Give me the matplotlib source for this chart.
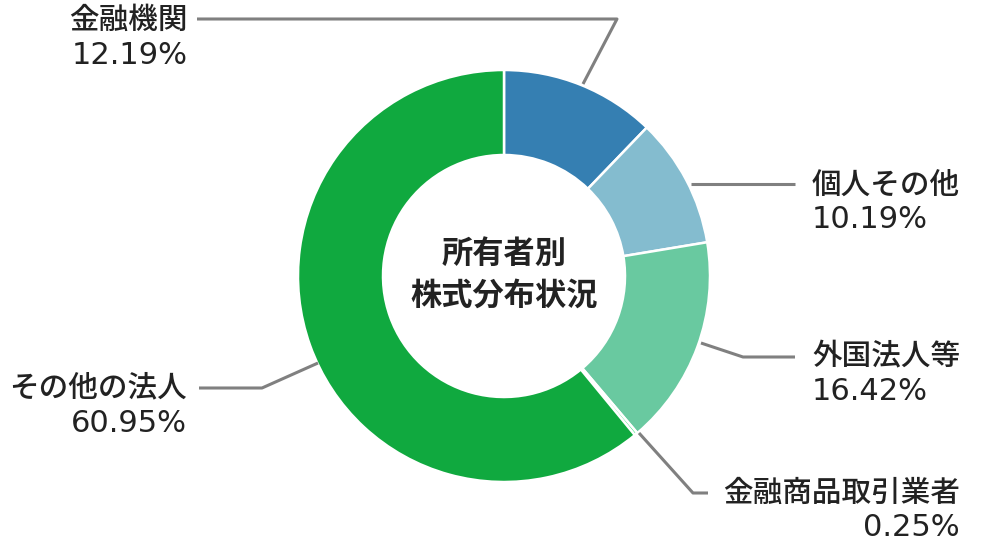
import matplotlib
matplotlib.use("Agg")
import matplotlib.pyplot as plt
import numpy as np

plt.rcParams['font.family'] = ['Noto Sans CJK JP', 'DejaVu Sans']

categories = ['金融機関', '個人その他', '外国法人等', '金融商品取引業者', 'その他の法人']
values = [12.19, 10.19, 16.42, 0.25, 60.95]
value_labels = ['12.19%', '10.19%', '16.42%', '0.25%', '60.95%']
colors = ['#357fb2', '#84bccf', '#69c9a0', '#3ee07c', '#10a93f']
center_title = '所有者別\n株式分布状況'

W, H = 1000, 548
fig = plt.figure(figsize=(W / 100, H / 100), dpi=100)
ax = fig.add_axes([0, 0, 1, 1])

cx, cy = 504, H - 276
R = 206
ring = 85

ax.pie(values, colors=colors, startangle=90, counterclock=False,
       radius=R, center=(cx, cy), frame=True,
       wedgeprops=dict(width=ring, edgecolor='white', linewidth=1.8))
ax.set_xlim(0, W)
ax.set_ylim(0, H)
ax.set_aspect('equal')
ax.axis('off')

ax.text(cx, cy + 1, center_title, ha='center', va='center', fontsize=22.5,
        fontweight='bold', color='#222222', linespacing=1.4)

def Y(y):
    return H - y

# leader lines in pixel coords (y down) and label anchors
leaders = [
    [(583, 84), (617, 19), (197, 19)],
    [(691, 184), (795, 184)],
    [(701, 343), (743, 357), (795, 357)],
    [(639, 433), (693, 493), (708, 493)],
    [(318, 363), (262, 388), (199, 388)],
]
anchors = [
    (188, 20, 55, 'right'),
    (812, 185, 220, 'left'),
    (812, 357, 392, 'left'),
    (960, 493, 528, 'right'),
    (187, 388, 423, 'right'),
]
for pts, (tx, y1, y2, ha), cat, vl in zip(leaders, anchors, categories, value_labels):
    xs = [p[0] for p in pts]
    ys = [Y(p[1]) for p in pts]
    ax.plot(xs, ys, color='#808080', linewidth=2.2, solid_capstyle='butt')
    ax.text(tx, Y(y1), cat, ha=ha, va='center', fontsize=21.3,
            fontweight='medium', color='#222222')
    ax.text(tx, Y(y2), vl, ha=ha, va='center', fontsize=22,
            family=['DejaVu Sans'], color='#222222')

fig.savefig('out.png', dpi=100)
